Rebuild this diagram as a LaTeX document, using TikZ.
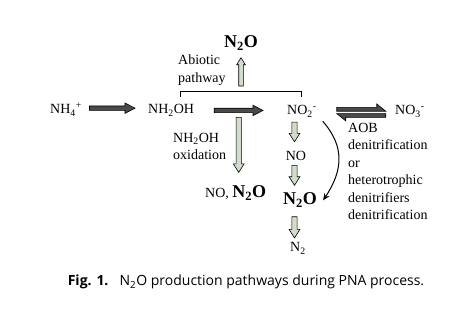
\documentclass[tikz,border=0pt]{standalone}
\usepackage{fontspec}
\setmainfont{Liberation Serif}
\newfontfamily\capfont{Open Sans}
\usetikzlibrary{arrows.meta,calc}
\definecolor{darkfill}{HTML}{4A4A4A}
\definecolor{lightfill}{HTML}{D2DCCB}
\begin{document}
\begin{tikzpicture}[x=1pt,y=-1pt,
  every node/.style={inner sep=0pt, font=\fontsize{14}{17.5}\selectfont},
  blk/.style n args={3}{to path={let \p1=(\tikztostart), \p2=(\tikztotarget),
      \n1={veclen(\x2-\x1,\y2-\y1)}, \n2={\n1-#3} in
      ($(\p1)!#1!90:(\p2)$)
      -- ($($(\p1)!\n2!(\p2)$)!#1!90:(\p2)$)
      -- ($($(\p1)!\n2!(\p2)$)!#2!90:(\p2)$)
      -- (\p2)
      -- ($($(\p1)!\n2!(\p2)$)!#2!-90:(\p2)$)
      -- ($($(\p1)!\n2!(\p2)$)!#1!-90:(\p2)$)
      -- ($(\p1)!#1!-90:(\p2)$) -- cycle}},
  harr/.style={draw=black, line width=0.6pt, fill=darkfill, line join=miter, blk={2.2pt}{5.2pt}{10pt}},
  varr/.style={draw=black, line width=0.6pt, fill=lightfill, line join=miter, blk={2.6pt}{5.4pt}{8.5pt}},
  uarr/.style={draw=black, line width=0.6pt, fill=lightfill, line join=miter, blk={2.3pt}{4.4pt}{7pt}},
  big/.style={font=\fontsize{18}{20}\selectfont\bfseries},
  harp/.style={draw=black, line width=0.6pt, fill=darkfill, line join=miter},
  curv/.style={line width=1pt, -{Stealth[length=7pt,width=6pt]}},
  brk/.style={line width=0.9pt}]
\fill[white] (0,0) rectangle (472,326);
\useasboundingbox (0,0) rectangle (472,326);

% nodes
\node[big, anchor=base] (n2otop) at (241,48) {N\textsubscript{2}O};
\node[anchor=north west, align=left] (abiotic) at (178,55) {Abiotic\\pathway};
\node[anchor=base west] (nh4) at (50,114) {NH\textsubscript{4}\textsuperscript{+}};
\node[anchor=base west] (nh2oh) at (148,114) {NH\textsubscript{2}OH};
\node[anchor=base west] (no2) at (287,115) {NO\textsubscript{2}\textsuperscript{-}};
\node[anchor=base west] (no3) at (395,115) {NO\textsubscript{3}\textsuperscript{-}};
\node[anchor=north west, align=left] (oxid) at (173,133) {NH\textsubscript{2}OH\\oxidation};
\node[anchor=base west] (non2o) at (205,198) {NO, {\fontsize{18}{20}\selectfont\bfseries N\textsubscript{2}O}};
\node[anchor=base] (no) at (296,161) {NO};
\node[big, anchor=base] (n2o) at (300,205) {N\textsubscript{2}O};
\node[anchor=base] (n2) at (298,252) {N\textsubscript{2}};
\node[anchor=north west, align=left] (aob) at (348,123) {AOB\\denitrification\\or\\heterotrophic\\denitrifiers\\denitrification};
\node[anchor=base, font=\capfont\fontsize{14}{16}\selectfont] (cap) at (246,286)
  {\textbf{Fig. 1.}\hspace{0.8em}N\textsubscript{2}O production pathways during PNA process.};

% bracket and abiotic arrow
\coordinate (bl) at (180,97);
\coordinate (bm) at (n2otop.south |- 0,91);
\draw[brk] (bl) -- (bl |- bm) -- (bm -| no2.north) -- ++(0,6);
\draw[uarr] ([yshift=5pt]bm) to ([yshift=-7pt]n2otop.south);

% horizontal arrows
\coordinate (h1) at (nh4.east -| nh2oh.west);
\draw[harr] ([xshift=7.5pt,yshift=1.5pt]nh4.east) to ([xshift=-13pt,yshift=1.5pt]h1);
\coordinate (h2) at (nh2oh.east -| no2.west);
\draw[harr] ([xshift=20pt]nh2oh.east) to ([xshift=-24pt]h2);

% reversible harpoons
\coordinate (hp) at ([xshift=20pt,yshift=-1pt]no2.east);
\begin{scope}[shift={(hp)}]
  \draw[harp] (0,-1.2) -- (49,-1.2) -- (40,-8.5) -- (40,-5) -- (0,-5) -- cycle;
  \draw[harp] (49,1.2) -- (0,1.2) -- (9,8.5) -- (9,5) -- (49,5) -- cycle;
\end{scope}

% vertical arrows
\coordinate (d1) at (non2o.north |- nh2oh.south);
\draw[varr] ([xshift=3pt,yshift=-1pt]d1) to ([xshift=3pt,yshift=13.5pt]non2o.north);
\coordinate (d2) at (no2.south -| no.north);
\draw[varr] ([xshift=-1.5pt,yshift=-4.7pt]d2) to ([xshift=-1.5pt,yshift=9.7pt]no.north);
\coordinate (d3) at (no.south |- n2o.north);
\draw[varr] ([xshift=-1.5pt,yshift=-4pt]no.south) to ([xshift=-1.5pt,yshift=7.6pt]d3);
\coordinate (d4) at (no.south |- n2o.south);
\coordinate (d5) at (no.south |- n2.north);
\draw[varr] ([xshift=-1.5pt,yshift=-9pt]d4) to ([xshift=-1.5pt,yshift=4.7pt]d5);

% curved arrow
\draw[curv] ([shift={(6,4)}]no2.south east) .. controls +(22,25) and +(20,-30) .. ([xshift=6pt]n2o.east);
\end{tikzpicture}
\end{document}
